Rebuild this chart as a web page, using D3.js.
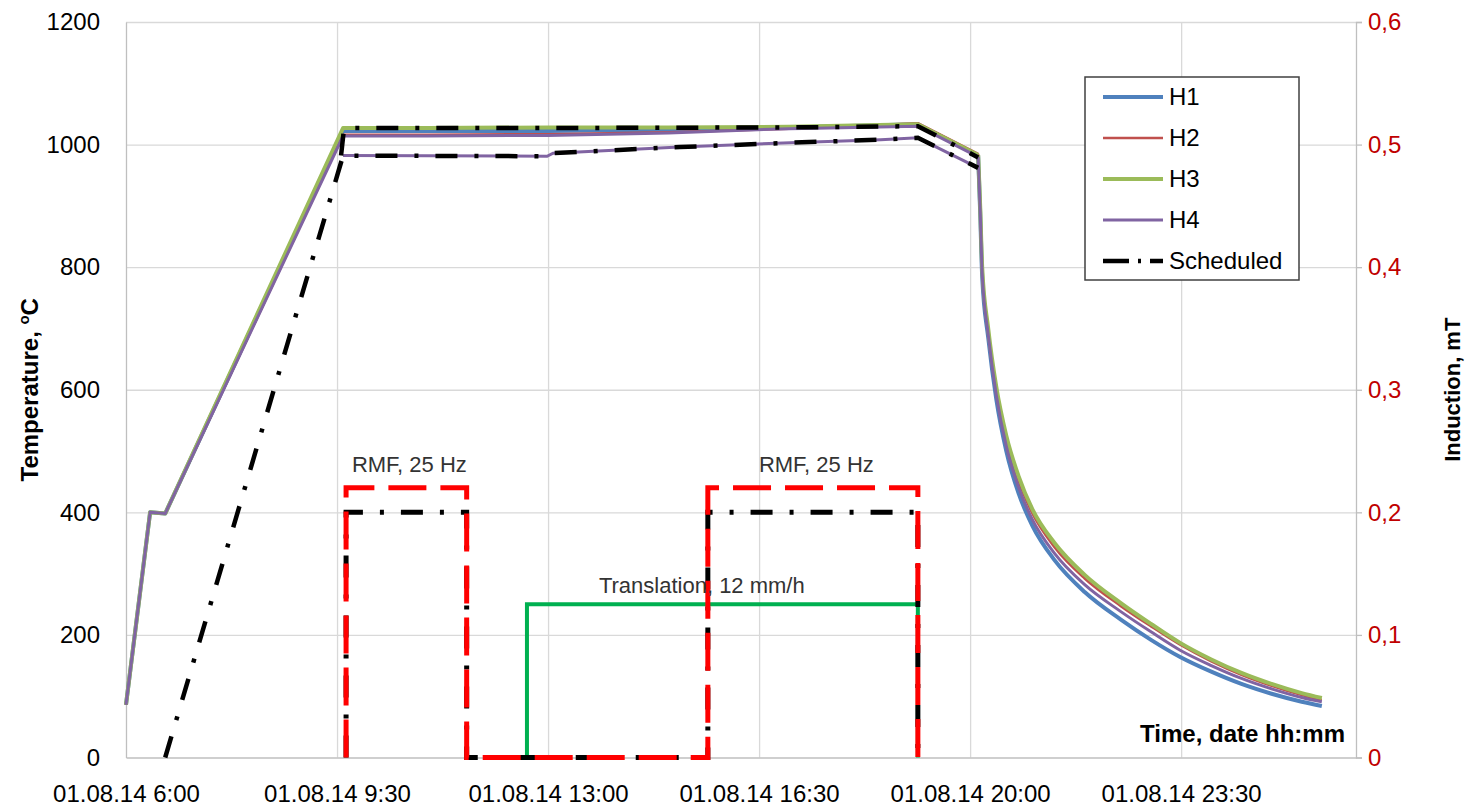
<!DOCTYPE html>
<html>
<head>
<meta charset="utf-8">
<script src="https://cdn.jsdelivr.net/npm/d3@7"></script>
<style>
  body { margin: 0; background: #fff; }
  svg { display: block; font-family: "Liberation Sans", Arial, sans-serif; }
  .grid line { stroke: #d9d9d9; stroke-width: 1.3; }
  .grid path { display: none; }
  .axis path, .axis line { stroke: #bfbfbf; stroke-width: 1.3; }
  .axis text { font-size: 24px; fill: #000; }
</style>
</head>
<body>
<svg id="chart"></svg>
<script>
// time is in hours from 01.08.14 0:00
var hTime = [6.0, 6.4, 6.65, 9.6, 11, 13, 15, 17, 19.13, 20.13, 20.16, 20.2, 20.3, 20.43, 20.6, 20.8, 21.03, 21.4, 21.9, 22.5, 23.0, 23.48, 24.0, 24.5, 25.0, 25.5, 25.84];
var h1 = [86, 400, 398, 1022, 1022, 1022, 1024, 1028, 1033, 982, 890, 785, 685, 585, 500, 432, 378, 322, 270, 225, 192, 164, 140, 120, 104, 91, 84];
var h2 = [86, 400, 398, 1016, 1016, 1017, 1020, 1026, 1035, 985, 898, 797, 697, 600, 518, 452, 398, 343, 292, 247, 214, 184, 157, 135, 117, 102, 94];
var h3 = [86, 400, 398, 1027, 1027, 1028, 1028, 1029, 1033, 983, 900, 800, 700, 605, 525, 460, 405, 350, 298, 252, 218, 187, 160, 138, 120, 105, 97];
var h4 = [86, 400, 398, 1014, 1014, 1015, 1019, 1026, 1030, 980, 893, 790, 690, 592, 508, 442, 388, 333, 282, 238, 205, 175, 150, 129, 112, 98, 91];
var coolStart = 9; // index where the cooling (smooth) part begins

// second (lower) purple trace, no legend entry
var h4LowTime = [9.6, 12.98, 13.08, 15.19, 17.01, 18.51, 19.13, 20.13];
var h4Low = [982, 981, 986, 996, 1003, 1008, 1011, 962];

var schedUpTime = [9.57, 9.62, 13, 17, 19.13, 20.13];
var schedUp = [982, 1027, 1027, 1028, 1030, 979];
var schedLowTime = [6.65, 9.6, 12.98, 13.08, 15.19, 17.01, 18.51, 19.13, 20.13];
var schedLow = [0, 982, 981, 986, 996, 1003, 1008, 1011, 962];

// induction (right axis, mT)
var rmfTime = [9.65, 9.65, 11.65, 11.65, 15.65, 15.65, 19.13, 19.13];
var rmfActual = [0, 0.22, 0.22, 0, 0, 0.22, 0.22, 0];
var rmfSched = [0, 0.2, 0.2, 0, 0, 0.2, 0.2, 0];
var transTime = [12.65, 12.65, 19.13, 19.13];
var trans = [0, 0.125, 0.125, 0];

var tempTicks = [0, 200, 400, 600, 800, 1000, 1200];
var indTicks = [0, 0.1, 0.2, 0.3, 0.4, 0.5, 0.6];
var timeTicks = [6, 9.5, 13, 16.5, 20, 23.5];

var notes = [
  {text: "RMF, 25 Hz", t: 10.7, v: 0.233},
  {text: "RMF, 25 Hz", t: 17.45, v: 0.233},
  {text: "Translation, 12 mm/h", t: 15.55, v: 0.134}
];

var width = 1468, height = 808;
var margin = {top: 22, right: 112, bottom: 50.5, left: 126};
var w = width - margin.left - margin.right;
var h = height - margin.top - margin.bottom;

function toDate(hr) { return new Date(2014, 7, 1, 0, Math.round(hr * 60)); }

var x = d3.scaleTime().domain([toDate(6), toDate(26.4)]).range([0, w]);
var y = d3.scaleLinear().domain([0, 1200]).range([h, 0]);
var y2 = d3.scaleLinear().domain([0, 0.6]).range([h, 0]);

var svg = d3.select("#chart").attr("width", width).attr("height", height);
svg.append("rect").attr("width", width).attr("height", height).attr("fill", "#fff");

var chart = svg.append("g").attr("transform", "translate(" + margin.left + "," + margin.top + ")");

// grid
chart.append("g").attr("class", "grid")
  .call(d3.axisLeft(y).tickValues(tempTicks.slice(1)).tickSize(-w).tickFormat(""));
chart.append("g").attr("class", "grid")
  .attr("transform", "translate(0," + h + ")")
  .call(d3.axisBottom(x).tickValues(timeTicks.slice(1).map(toDate)).tickSize(-h).tickFormat(""));

// axes
var fmt = d3.timeFormat("%d.%m.%y %-H:%M");
chart.append("g").attr("class", "axis")
  .attr("transform", "translate(0," + h + ")")
  .call(d3.axisBottom(x).tickValues(timeTicks.map(toDate)).tickSize(0).tickPadding(27).tickFormat(fmt));

chart.append("g").attr("class", "axis")
  .call(d3.axisLeft(y).tickValues(tempTicks).tickSize(0).tickPadding(26).tickFormat(d3.format("d")));

var right = chart.append("g").attr("class", "axis")
  .attr("transform", "translate(" + w + ",0)")
  .call(d3.axisRight(y2).tickValues(indTicks).tickSize(6).tickPadding(6)
    .tickFormat(function(d) { return d === 0 ? "0" : d3.format(".1f")(d).replace(".", ","); }));
right.selectAll("text").style("fill", "#c00000");

// axis titles
var yt = svg.append("text")
  .attr("transform", "translate(38," + (margin.top + h / 2) + ") rotate(-90)")
  .attr("text-anchor", "middle")
  .style("font-size", "24px").style("font-weight", "bold");
yt.append("tspan").text("Temperature, ");
yt.append("tspan").attr("dy", -9).style("font-size", "15px").text("o");
yt.append("tspan").attr("dy", 9).text("C");

svg.append("text")
  .attr("transform", "translate(1460," + (margin.top + h / 2) + ") rotate(-90)")
  .attr("text-anchor", "middle")
  .style("font-size", "22px").style("font-weight", "bold")
  .text("Induction, mT");

chart.append("text")
  .attr("x", w - 11).attr("y", h - 16)
  .attr("text-anchor", "end")
  .style("font-size", "24px").style("font-weight", "bold")
  .text("Time, date hh:mm");

function zip(ts, vs) { return ts.map(function(t, i) { return {t: t, v: vs[i]}; }); }

var line = d3.line().x(function(d) { return x(toDate(d.t)); }).y(function(d) { return y(d.v); });
var smooth = d3.line().curve(d3.curveMonotoneX).x(function(d) { return x(toDate(d.t)); }).y(function(d) { return y(d.v); });
var line2 = d3.line().x(function(d) { return x(toDate(d.t)); }).y(function(d) { return y2(d.v); });

var dashDot = "22,17,4,17";

var series = [
  {name: "H1", vals: h1, color: "#4f81bd", sw: 4},
  {name: "H2", vals: h2, color: "#c0504d", sw: 2.5},
  {name: "H3", vals: h3, color: "#9bbb59", sw: 4},
  {name: "H4", vals: h4, color: "#8064a2", sw: 3}
];

series.forEach(function(s) {
  var d = zip(hTime, s.vals);
  var g = chart.append("g").attr("fill", "none").attr("stroke", s.color)
    .attr("stroke-width", s.sw).attr("stroke-linejoin", "round");
  g.append("path").datum(d.slice(0, coolStart + 1)).attr("d", line);
  g.append("path").datum(d.slice(coolStart)).attr("d", smooth);
});

chart.append("path").datum(zip(h4LowTime, h4Low))
  .attr("fill", "none").attr("stroke", "#8064a2").attr("stroke-width", 3).attr("d", line);

[zip(schedUpTime, schedUp), zip(schedLowTime, schedLow)].forEach(function(d) {
  chart.append("path").datum(d)
    .attr("fill", "none").attr("stroke", "#000").attr("stroke-width", 4.5)
    .attr("stroke-dasharray", dashDot).attr("d", line);
});

// induction
chart.append("path").datum(zip(transTime, trans))
  .attr("fill", "none").attr("stroke", "#00b050").attr("stroke-width", 4).attr("d", line2);
chart.append("path").datum(zip(rmfTime, rmfSched))
  .attr("fill", "none").attr("stroke", "#000").attr("stroke-width", 5)
  .attr("stroke-dasharray", dashDot).attr("d", line2);
chart.append("path").datum(zip(rmfTime, rmfActual))
  .attr("fill", "none").attr("stroke", "#ff0000").attr("stroke-width", 5)
  .attr("stroke-dasharray", "38,14").attr("d", line2);

notes.forEach(function(n) {
  chart.append("text")
    .attr("x", x(toDate(n.t))).attr("y", y2(n.v))
    .attr("text-anchor", "middle")
    .style("font-size", "22px").style("fill", "#333")
    .text(n.text);
});

// legend
var lg = svg.append("g").attr("transform", "translate(1085,77)");
lg.append("rect").attr("width", 214).attr("height", 203)
  .attr("fill", "#fff").attr("stroke", "#404040").attr("stroke-width", 1.5);
var legendItems = series.concat([{name: "Scheduled", color: "#000", sw: 4.5, dash: "26,9,3,9"}]);
legendItems.forEach(function(s, i) {
  var yy = 20 + i * 41;
  lg.append("line").attr("x1", 18).attr("x2", 78).attr("y1", yy).attr("y2", yy)
    .attr("stroke", s.color).attr("stroke-width", s.sw)
    .attr("stroke-dasharray", s.dash || null);
  lg.append("text").attr("x", 84).attr("y", yy).attr("dy", "0.35em")
    .style("font-size", "24px").text(s.name);
});
</script>
</body>
</html>
